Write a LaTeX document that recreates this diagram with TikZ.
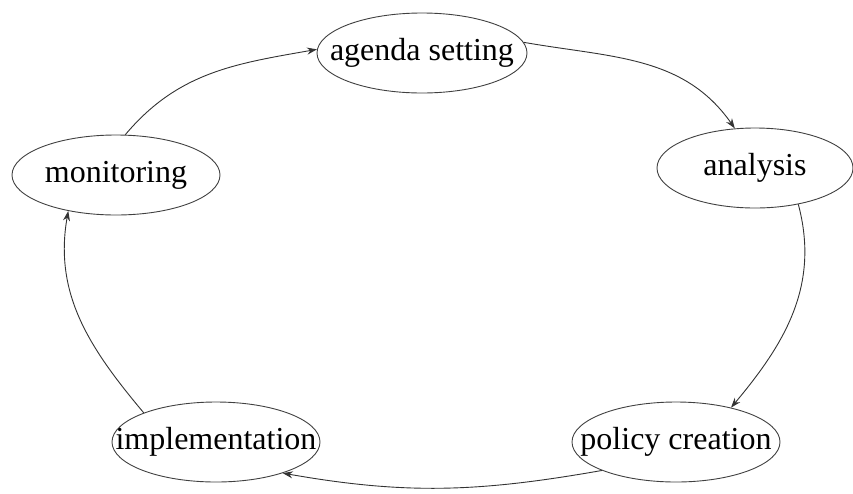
\documentclass[tikz,border=0pt]{standalone}
\usepackage{fontspec}
\setmainfont{Liberation Serif}
\usepackage{tikz}
\usetikzlibrary{shapes,arrows.meta,positioning}

\begin{document}
\begin{tikzpicture}[
    x=1pt, y=1pt,
    stage/.style={ellipse, draw=black!75, line width=0.9pt, minimum width=208pt, minimum height=80pt, inner sep=0pt, text height=22pt, text depth=7pt, font=\fontsize{32}{38}\selectfont},
    arrow/.style={->, draw=black!80, line width=0.9pt, >={Stealth[length=10pt,width=7pt]}}
]
\useasboundingbox (0,0) rectangle (853,-493);

% Stages of the cycle
\node[stage, minimum width=210pt] (agenda) at (422,-53) {\makebox[0pt]{agenda setting}};
\node[stage, minimum width=196pt] (analysis) at (755,-168) {\makebox[0pt]{analysis}};
\node[stage] (policy) at (676,-442) {\makebox[0pt]{policy creation}};
\node[stage] (implementation) at (216,-442) {\makebox[0pt]{implementation}};
\node[stage] (monitoring) at (116,-175) {\makebox[0pt]{monitoring}};

% Arrows
\draw[arrow] (monitoring.77) to[out=50, in=190] (agenda.178);
\draw[arrow] (agenda.6) to[out=-10, in=125] (analysis.117);
\draw[arrow] (analysis.-40) to[out=-75, in=50] (policy.32);
\draw[arrow] (policy.-159) to[out=190, in=-10] (implementation.-25);
\draw[arrow] (implementation.158) to[out=130, in=-100] (monitoring.-143);

\end{tikzpicture}
\end{document}
